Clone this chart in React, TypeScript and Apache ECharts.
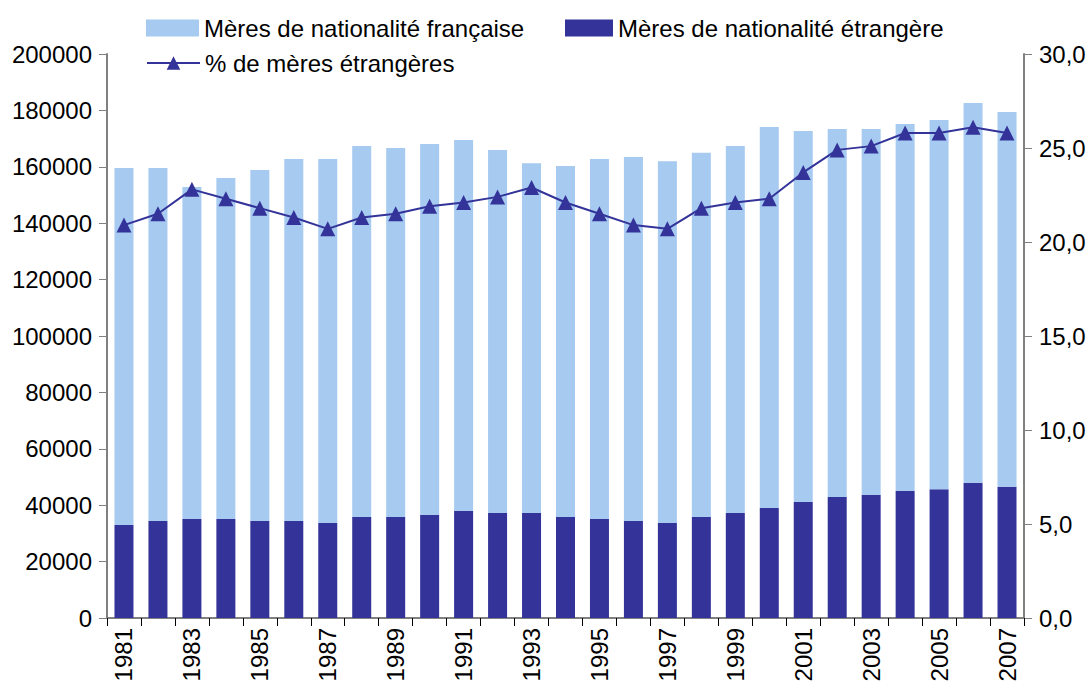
import React, { useEffect, useRef } from "react";
import * as echarts from "echarts";

const years = [
  "1981", "1982", "1983", "1984", "1985", "1986", "1987", "1988", "1989", "1990",
  "1991", "1992", "1993", "1994", "1995", "1996", "1997", "1998", "1999", "2000",
  "2001", "2002", "2003", "2004", "2005", "2006", "2007",
];

const foreignMothers = [
  33000, 34400, 35100, 35100, 34400, 34400, 33700, 35800, 35800, 36500,
  37900, 37200, 37200, 35800, 35100, 34400, 33700, 35800, 37200, 39000,
  41100, 42900, 43600, 45000, 45700, 47900, 46500,
];

const frenchMothers = [
  126600, 125200, 117700, 120900, 124500, 128400, 129100, 131600, 130900, 131600,
  131600, 128800, 124100, 124500, 127700, 129100, 128300, 129200, 130200, 135100,
  131600, 130500, 129800, 130200, 130900, 134700, 132900,
];

const pctForeign = [
  20.9, 21.5, 22.8, 22.3, 21.8, 21.3, 20.7, 21.3, 21.5, 21.9,
  22.1, 22.4, 22.9, 22.1, 21.5, 20.9, 20.7, 21.8, 22.1, 22.3,
  23.7, 24.9, 25.1, 25.8, 25.8, 26.1, 25.8,
];

const NAME_FR = "Mères de nationalité française";
const NAME_ET = "Mères de nationalité étrangère";
const NAME_PCT = "% de mères étrangères";

export default function App() {
  const ref = useRef<HTMLDivElement>(null);
  useEffect(() => {
    if (!ref.current) return;
    const chart = echarts.init(ref.current, null, { renderer: "svg" });
    const font = "Liberation Sans, Arial, sans-serif";
    const axisGray = "#808080";
    const fs = 24;
    chart.setOption({
      animation: false,
      backgroundColor: "#ffffff",
      textStyle: { fontFamily: font, color: "#000" },
      grid: { left: 107, right: 68, top: 54, bottom: 70, containLabel: false },
      legend: [
        {
          data: [NAME_FR], left: 141, top: 11, itemWidth: 53, itemHeight: 17,
          textStyle: { fontSize: fs, fontFamily: font, color: "#000" }, icon: "rect",
        },
        {
          data: [NAME_ET], left: 560, top: 11, itemWidth: 48, itemHeight: 17,
          textStyle: { fontSize: fs, fontFamily: font, color: "#000" }, icon: "rect",
        },
        {
          data: [NAME_PCT], left: 141, top: 46, itemWidth: 53, itemHeight: 17,
          textStyle: { fontSize: fs, fontFamily: font, color: "#000" },
        },
      ],
      xAxis: {
        type: "category",
        data: years,
        axisLine: { lineStyle: { color: axisGray, width: 2 } },
        axisTick: { show: true, interval: 0, length: 8, lineStyle: { color: "#000" } },
        axisLabel: {
          interval: 1, rotate: 90, fontSize: fs, color: "#000", margin: 10, fontFamily: font,
        },
      },
      yAxis: [
        {
          type: "value", min: 0, max: 200000, interval: 20000,
          axisLine: { show: true, lineStyle: { color: axisGray, width: 2 } },
          axisTick: { show: true, length: 8, lineStyle: { color: axisGray } },
          splitLine: { show: false },
          axisLabel: {
            fontSize: fs, color: "#000", margin: 15, fontFamily: font,
            formatter: (v: number) => String(v),
          },
        },
        {
          type: "value", min: 0, max: 30, interval: 5, position: "right",
          axisLine: { show: true, lineStyle: { color: axisGray, width: 2 } },
          axisTick: { show: true, length: 8, lineStyle: { color: axisGray } },
          splitLine: { show: false },
          axisLabel: {
            fontSize: fs, color: "#000", margin: 15, fontFamily: font,
            formatter: (v: number) => v.toFixed(1).replace(".", ","),
          },
        },
      ],
      series: [
        {
          name: NAME_ET, type: "bar", stack: "total", data: foreignMothers,
          barWidth: 19, itemStyle: { color: "#333399" },
        },
        {
          name: NAME_FR, type: "bar", stack: "total", data: frenchMothers,
          barWidth: 19, itemStyle: { color: "#A6CAF0" },
        },
        {
          name: NAME_PCT, type: "line", yAxisIndex: 1, data: pctForeign,
          symbol: "triangle", symbolSize: 15,
          lineStyle: { color: "#333399", width: 2 },
          itemStyle: { color: "#333399" },
        },
      ],
    });
    return () => chart.dispose();
  }, []);
  return (
    <div
      ref={ref}
      style={{ position: "absolute", left: 0, top: 0, width: 1092, height: 688 }}
    />
  );
}
